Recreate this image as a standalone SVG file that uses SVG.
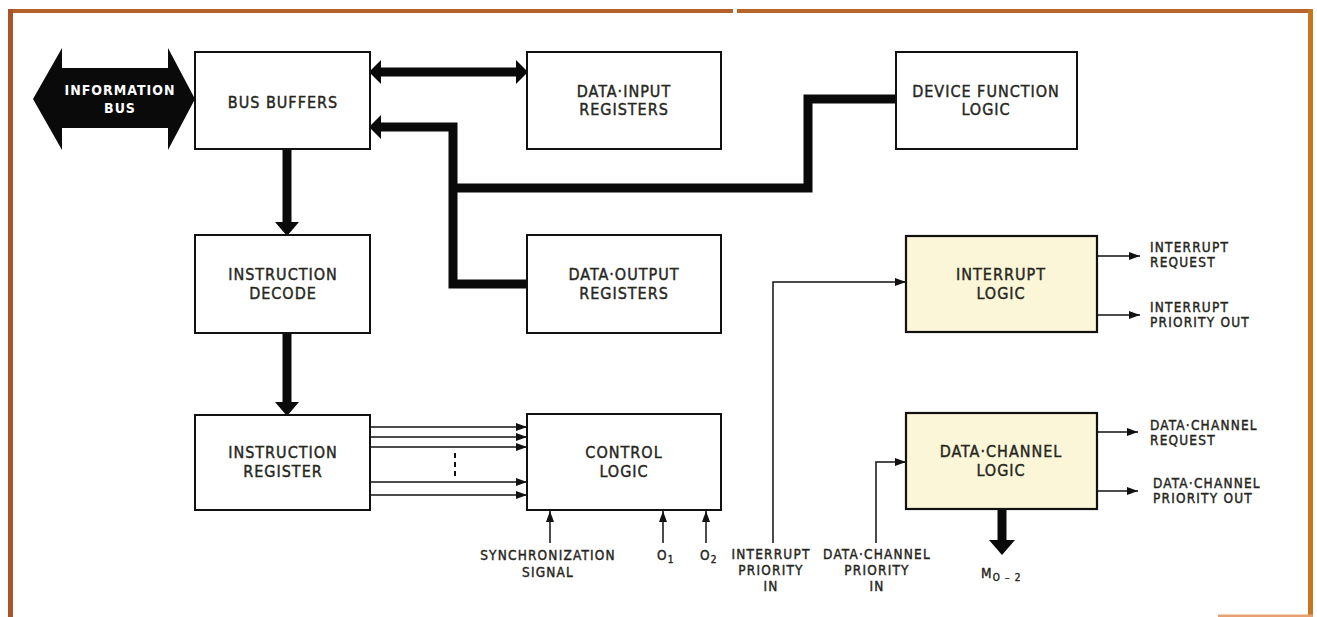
<svg xmlns="http://www.w3.org/2000/svg" width="1317" height="617" viewBox="0 0 1317 617">
<style>
.box{fill:#fff;stroke:#111;stroke-width:2}
.cream{fill:#fbf6d8;stroke:#111;stroke-width:2.2}
.t{font-family:"Liberation Sans Narrow","DejaVu Sans Condensed","DejaVu Sans",sans-serif;fill:#26261c;stroke:#26261c;stroke-width:0.4}
.lbl{font-size:16px;letter-spacing:1px;text-anchor:middle}
.sm{font-size:13.5px;letter-spacing:1.2px}
.mid{text-anchor:middle}
.thick{fill:none;stroke:#0a0a0a;stroke-width:9;stroke-linejoin:miter}
.thin{fill:none;stroke:#111;stroke-width:1.5}
.head{fill:#0a0a0a}
</style>
<defs>
<marker id="ah" markerUnits="userSpaceOnUse" markerWidth="11" markerHeight="8" refX="11" refY="4" orient="auto">
<path d="M0,0 L11,4 L0,8 z" fill="#111"/>
</marker>
</defs>
<rect x="0" y="0" width="1317" height="617" fill="#fff"/>
<g id="frame">
<line x1="8" y1="11" x2="733" y2="11" stroke="#b6602a" stroke-width="4"/>
<line x1="737" y1="11" x2="1313" y2="11" stroke="#b9642a" stroke-width="4"/>
<line x1="10.5" y1="9" x2="10.5" y2="617" stroke="#a85428" stroke-width="5"/>
<line x1="1310.5" y1="9" x2="1310.5" y2="617" stroke="#c6761e" stroke-width="5"/>
<line x1="1218" y1="616" x2="1313" y2="616" stroke="#e8a070" stroke-width="3"/>
</g>

<g id="connectors">
<line class="thick" x1="378" y1="72" x2="518" y2="72"/>
<polygon class="head" points="369,72 381,60 381,84"/>
<polygon class="head" points="528,72 516,60 516,84"/>
<polyline class="thick" points="527,284 453,284 453,127 378,127"/>
<polygon class="head" points="369,127 381,115 381,139"/>
<polyline class="thick" points="453,188 808,188 808,99 896,99"/>
<line class="thick" x1="287" y1="149" x2="287" y2="224"/>
<polygon class="head" points="275,222 299,222 287,236"/>
<line class="thick" x1="287" y1="333" x2="287" y2="404"/>
<polygon class="head" points="275,402 299,402 287,416"/>
<line class="thin" x1="370" y1="427" x2="527" y2="427" marker-end="url(#ah)"/>
<line class="thin" x1="370" y1="437" x2="527" y2="437" marker-end="url(#ah)"/>
<line class="thin" x1="370" y1="447" x2="527" y2="447" marker-end="url(#ah)"/>
<line class="thin" x1="370" y1="482" x2="527" y2="482" marker-end="url(#ah)"/>
<line class="thin" x1="370" y1="495" x2="527" y2="495" marker-end="url(#ah)"/>
<line x1="455" y1="453" x2="455" y2="478" stroke="#111" stroke-width="2" stroke-dasharray="5,4"/>
<line class="thin" x1="550" y1="543" x2="550" y2="511" marker-end="url(#ah)"/>
<line class="thin" x1="663" y1="543" x2="663" y2="511" marker-end="url(#ah)"/>
<line class="thin" x1="706" y1="543" x2="706" y2="511" marker-end="url(#ah)"/>
<polyline class="thin" points="773,543 773,282 906,282" marker-end="url(#ah)"/>
<line class="thin" x1="1097" y1="256" x2="1140" y2="256" marker-end="url(#ah)"/>
<line class="thin" x1="1097" y1="315" x2="1140" y2="315" marker-end="url(#ah)"/>
<polyline class="thin" points="876,543 876,462 906,462" marker-end="url(#ah)"/>
<line class="thin" x1="1097" y1="432" x2="1138" y2="432" marker-end="url(#ah)"/>
<line class="thin" x1="1097" y1="491" x2="1138" y2="491" marker-end="url(#ah)"/>
<line class="thick" x1="1002" y1="510" x2="1002" y2="542"/>
<polygon class="head" points="989,540 1015,540 1002,555"/>
</g>

<g id="information-bus">
<polygon class="head" points="33,99 62,48 62,68 168,68 168,48 195,99 168,150 168,128 62,128 62,150"/>
<text class="t" x="120" y="95" font-size="14" font-weight="bold" letter-spacing="1" text-anchor="middle" style="fill:#fff;stroke:none">INFORMATION</text>
<text class="t" x="120" y="113" font-size="14" font-weight="bold" letter-spacing="1" text-anchor="middle" style="fill:#fff;stroke:none">BUS</text>
</g>

<g id="bus-buffers">
<rect class="box" x="195" y="52" width="175" height="97"/>
<text class="t lbl" x="283" y="108">BUS BUFFERS</text>
</g>

<g id="data-input-registers">
<rect class="box" x="527" y="52" width="194" height="97"/>
<text class="t lbl" x="624" y="97">DATA·INPUT</text>
<text class="t lbl" x="624" y="115">REGISTERS</text>
</g>

<g id="device-function-logic">
<rect class="box" x="896" y="52" width="181" height="97"/>
<text class="t lbl" x="986" y="97">DEVICE FUNCTION</text>
<text class="t lbl" x="986" y="115">LOGIC</text>
</g>

<g id="instruction-decode">
<rect class="box" x="195" y="235" width="175" height="98"/>
<text class="t lbl" x="283" y="280">INSTRUCTION</text>
<text class="t lbl" x="283" y="299">DECODE</text>
</g>

<g id="data-output-registers">
<rect class="box" x="527" y="235" width="194" height="98"/>
<text class="t lbl" x="624" y="280">DATA·OUTPUT</text>
<text class="t lbl" x="624" y="299">REGISTERS</text>
</g>

<g id="interrupt-logic">
<rect class="cream" x="906" y="236" width="191" height="96"/>
<text class="t lbl" x="1001" y="280">INTERRUPT</text>
<text class="t lbl" x="1001" y="299">LOGIC</text>
</g>

<g id="instruction-register">
<rect class="box" x="195" y="415" width="175" height="95"/>
<text class="t lbl" x="283" y="458">INSTRUCTION</text>
<text class="t lbl" x="283" y="477">REGISTER</text>
</g>

<g id="control-logic">
<rect class="box" x="527" y="414" width="194" height="96"/>
<text class="t lbl" x="624" y="458">CONTROL</text>
<text class="t lbl" x="624" y="477">LOGIC</text>
</g>

<g id="data-channel-logic">
<rect class="cream" x="906" y="413" width="191" height="96"/>
<text class="t lbl" x="1001" y="457">DATA·CHANNEL</text>
<text class="t lbl" x="1001" y="476">LOGIC</text>
</g>

<g id="labels">
<text class="t sm" x="1150" y="252">INTERRUPT</text>
<text class="t sm" x="1150" y="267">REQUEST</text>
<text class="t sm" x="1150" y="312">INTERRUPT</text>
<text class="t sm" x="1150" y="327">PRIORITY OUT</text>
<text class="t sm" x="1150" y="430">DATA·CHANNEL</text>
<text class="t sm" x="1150" y="445">REQUEST</text>
<text class="t sm" x="1153" y="488">DATA·CHANNEL</text>
<text class="t sm" x="1153" y="503">PRIORITY OUT</text>
<text class="t sm mid" x="548" y="560">SYNCHRONIZATION</text>
<text class="t sm mid" x="548" y="577">SIGNAL</text>
<text class="t sm" x="657" y="560">O<tspan font-size="10" dy="3">1</tspan></text>
<text class="t sm" x="700" y="560">O<tspan font-size="10" dy="3">2</tspan></text>
<text class="t sm mid" x="771" y="559">INTERRUPT</text>
<text class="t sm mid" x="771" y="575">PRIORITY</text>
<text class="t sm mid" x="771" y="591">IN</text>
<text class="t sm mid" x="877" y="559">DATA·CHANNEL</text>
<text class="t sm mid" x="877" y="575">PRIORITY</text>
<text class="t sm mid" x="877" y="591">IN</text>
<text class="t sm" x="981" y="578" letter-spacing="0.5">M<tspan font-size="10" dy="3">O – 2</tspan></text>
</g>
</svg>
